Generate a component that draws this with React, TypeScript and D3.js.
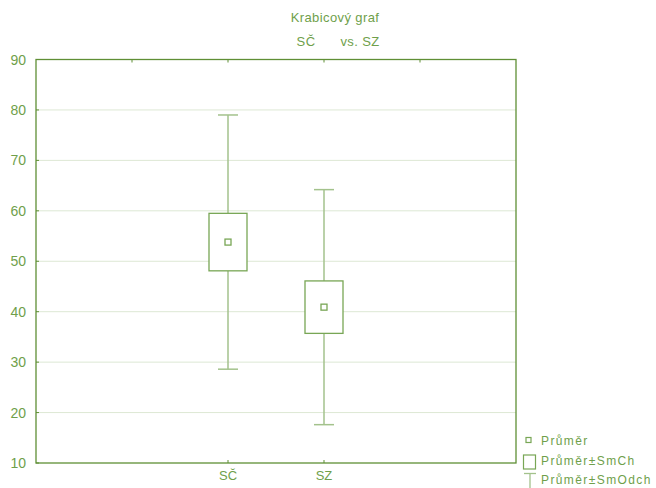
import React from "react";
import * as d3 from "d3";

const categories = ["SČ", "SZ"];
const categoryPositions = [2, 3];
const means = [53.8, 40.9];
const stdErrors = [5.7, 5.2];
const stdDevs = [25.2, 23.3];
const yTicks = [10, 20, 30, 40, 50, 60, 70, 80, 90];
const xTopTicks = [1, 2, 3, 4];
const legendLabels = ["Průměr", "Průměr±SmCh", "Průměr±SmOdch"];

const W = 656, H = 488;
const M = { left: 36, right: 140, top: 59.5, bottom: 25 };
const textColor = "#6f9f4b";
const frameColor = "#5f8f35";
const boxColor = "#78a655";
const whiskerColor = "#a3c28c";
const gridColor = "#dde8d4";
const font = "'Liberation Sans', Arial, sans-serif";

export default function App() {
  const x = d3.scaleLinear().domain([0, 5]).range([M.left, W - M.right]);
  const y = d3.scaleLinear().domain([10, 90]).range([H - M.bottom, M.top]);
  const boxW = 38, capW = 20, mk = 6;
  return (
    <svg width={W} height={H} style={{ position: "absolute", left: 0, top: 0 }}>
      <rect width={W} height={H} fill="#fff" />
      <text x={335} y={22} textAnchor="middle" fill={textColor} fontFamily={font} fontSize={13} letterSpacing={0.4}>Krabicový graf</text>
      <text x={306} y={46} textAnchor="middle" fill={textColor} fontFamily={font} fontSize={13} letterSpacing={0.4}>{categories[0]}</text>
      <text x={360} y={46} textAnchor="middle" fill={textColor} fontFamily={font} fontSize={13} letterSpacing={0.4}>vs. {categories[1]}</text>
      {yTicks.slice(1, -1).map(t => (
        <line key={t} x1={x(0)} x2={x(5)} y1={y(t)} y2={y(t)} stroke={gridColor} strokeWidth={1} />
      ))}
      {yTicks.map(t => (
        <g key={"yt" + t}>
          <line x1={x(0)} x2={x(0) + 3} y1={y(t)} y2={y(t)} stroke={frameColor} />
          <text x={26} y={y(t) + 5} textAnchor="end" fill={textColor} fontFamily={font} fontSize={14}>{t}</text>
        </g>
      ))}
      {xTopTicks.map(t => (
        <line key={"xt" + t} x1={x(t)} x2={x(t)} y1={y(90)} y2={y(90) + 3} stroke={frameColor} />
      ))}
      {categoryPositions.map((p, i) => (
        <g key={"xb" + i}>
          <line x1={x(p)} x2={x(p)} y1={y(10)} y2={y(10) - 3} stroke={frameColor} />
          <text x={x(p)} y={y(10) + 17} textAnchor="middle" fill={textColor} fontFamily={font} fontSize={13}>{categories[i]}</text>
        </g>
      ))}
      {categories.map((c, i) => {
        const cx = x(categoryPositions[i]);
        const m = means[i], se = stdErrors[i], sd = stdDevs[i];
        return (
          <g key={c}>
            <line x1={cx} x2={cx} y1={y(m + sd)} y2={y(m + se)} stroke={whiskerColor} strokeWidth={1.5} />
            <line x1={cx} x2={cx} y1={y(m - se)} y2={y(m - sd)} stroke={whiskerColor} strokeWidth={1.5} />
            <line x1={cx - capW / 2} x2={cx + capW / 2} y1={y(m + sd)} y2={y(m + sd)} stroke={whiskerColor} strokeWidth={1.5} />
            <line x1={cx - capW / 2} x2={cx + capW / 2} y1={y(m - sd)} y2={y(m - sd)} stroke={whiskerColor} strokeWidth={1.5} />
            <rect x={cx - boxW / 2} y={y(m + se)} width={boxW} height={y(m - se) - y(m + se)} fill="#fff" stroke={boxColor} strokeWidth={1.3} />
            <rect x={cx - mk / 2} y={y(m) - mk / 2} width={mk} height={mk} fill="#fff" stroke={boxColor} strokeWidth={1.3} />
          </g>
        );
      })}
      <rect x={x(0)} y={y(90)} width={x(5) - x(0)} height={y(10) - y(90)} fill="none" stroke={frameColor} strokeWidth={1.3} />
      {/* legend */}
      <rect x={526} y={437.5} width={5} height={5} fill="none" stroke={boxColor} strokeWidth={1.2} />
      <text x={541} y={445} fill={textColor} fontFamily={font} fontSize={12} letterSpacing={1.4}>{legendLabels[0]}</text>
      <rect x={523.5} y={455} width={12} height={14} fill="none" stroke={boxColor} strokeWidth={1.2} />
      <text x={541} y={465} fill={textColor} fontFamily={font} fontSize={12} letterSpacing={1.4}>{legendLabels[1]}</text>
      <line x1={524} x2={536} y1={473.5} y2={473.5} stroke={whiskerColor} strokeWidth={1.3} />
      <line x1={530} x2={530} y1={473.5} y2={488} stroke={whiskerColor} strokeWidth={1.3} />
      <text x={541} y={484} fill={textColor} fontFamily={font} fontSize={12} letterSpacing={1.4}>{legendLabels[2]}</text>
    </svg>
  );
}
